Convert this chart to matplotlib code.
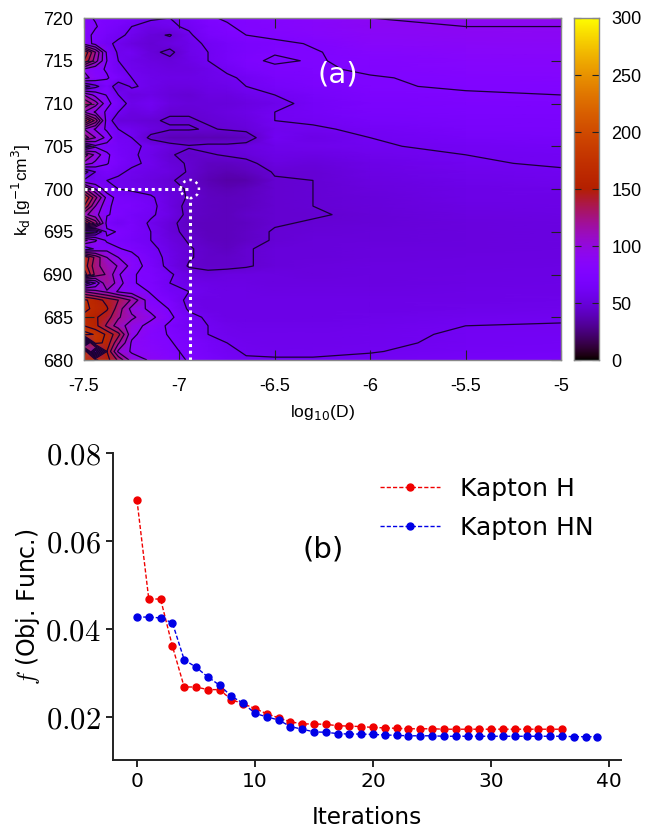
import numpy as np
import matplotlib
matplotlib.use("Agg")
import matplotlib.pyplot as plt
from matplotlib.colors import ListedColormap

W, H = 645, 830
log_d = [-7.5,-7.44,-7.38,-7.32,-7.25,-7.15,-7.05,-6.95,-6.85,-6.75,-6.65,-6.5,-6.3,-6.0,-5.5,-5.0]
k_d = list(range(720, 679, -1))
objective = [
[78,74,72,72,70,62,60,66,74,76,78,80,84,90,91,92],
[85,76,70,66,60,55,58,62,70,74,77,79,83,88,90,90],
[80,72,66,62,58,50,46,58,68,72,75,78,82,86,88,89],
[85,70,62,58,52,48,52,56,62,66,70,72,76,84,86,87],
[165,120,72,58,60,50,44,56,60,66,70,74,74,80,84,85],
[150,112,75,60,56,52,50,54,60,66,72,77,74,78,82,83],
[88,78,74,62,58,54,52,52,56,62,68,72,73,77,80,81],
[95,84,76,70,60,56,54,54,56,58,62,68,72,74,78,79],
[38,56,70,50,62,56,52,52,54,56,60,66,70,74,76,77],
[105,85,74,60,52,54,50,48,52,52,56,60,66,72,74,75],
[135,112,80,66,56,60,52,50,50,50,52,56,64,70,72,73],
[105,88,72,60,52,56,48,48,50,52,54,60,64,68,71,71],
[175,130,68,50,50,48,46,46,48,50,52,60,62,66,69,70],
[105,88,72,60,58,52,48,48,46,48,50,58,58,63,67,68],
[130,105,85,62,60,44,38,38,38,38,40,60,55,60,65,66],
[40,72,68,65,62,58,52,48,50,50,52,56,57,59,62,64],
[130,100,78,66,62,56,48,44,46,48,50,54,53,57,60,62],
[100,86,76,68,62,58,50,46,42,42,44,52,50,55,59,61],
[40,60,68,62,58,54,52,46,40,38,40,48,48,53,57,59],
[62,62,60,58,56,52,48,44,38,34,36,46,47,52,56,58],
[125,90,66,60,58,55,50,46,40,38,40,46,47,51,55,56],
[170,125,85,68,66,62,52,46,42,40,42,46,47,50,54,55],
[150,105,78,70,70,64,52,44,42,40,42,46,47,50,53,54],
[110,95,76,72,66,62,54,44,42,40,44,46,46,49,52,53],
[175,130,70,62,68,58,50,42,40,40,42,46,48,49,51,52],
[28,40,78,74,68,60,50,44,40,40,43,48,49,50,51,52],
[110,92,72,70,66,60,52,46,42,40,43,48,50,50,51,52],
[62,78,85,76,72,64,54,48,44,42,46,50,50,51,51,52],
[165,130,105,90,80,66,56,48,44,44,46,50,50,51,52,52],
[160,125,112,104,84,68,56,46,44,44,46,50,51,52,52,53],
[175,130,118,92,76,72,62,52,50,52,52,52,51,52,53,53],
[45,75,120,98,76,72,60,54,54,53,53,52,52,52,53,54],
[120,110,102,88,82,74,64,60,56,54,54,53,53,53,54,55],
[168,158,145,135,118,78,70,56,55,54,54,54,54,54,55,56],
[168,162,152,128,100,86,74,58,54,54,54,55,55,55,56,57],
[162,152,142,122,108,94,78,64,58,55,55,55,55,56,58,59],
[165,155,132,112,98,84,72,62,60,57,56,56,56,57,60,60.5],
[188,178,162,140,94,80,74,67,60,58,57,57,57,58,61,62],
[45,172,160,122,88,82,76,70,65,60,58,57,57,58,62,63],
[190,60,150,102,88,84,78,72,66,62,59,58,58,59.5,63,64],
[178,168,156,132,98,88,80,74,68,64,61,61,61,62,65,66],
]
contour_levels = [47,60,75,90,105,120,135,150,165,180]
best_log_d, best_k_d = -6.945, 700
x_ticks_a = [-7.5,-7,-6.5,-6,-5.5,-5]
x_labels_a = ["-7.5","-7","-6.5","-6","-5.5","-5"]
y_ticks_a = [680,685,690,695,700,705,710,715,720]
cbar_ticks = [0,50,100,150,200,250,300]

kapton_h = [.0693,.0468,.0468,.0361,.0268,.0268,.0262,.0262,.0239,.0230,.0219,.0207,.0198,.0189,.0184,.0184,.0183,.0180,.0179,.0178,.0176,.0175,.0174,.0173,.0173,.0173,.0172,.0172,.0172,.0172,.0172,.0172,.0172,.0172,.0172,.0172,.0172]
kapton_hn = [.0427,.0427,.0425,.0414,.0330,.0313,.0291,.0272,.0247,.0231,.0208,.0200,.0193,.0178,.0172,.0166,.0165,.0162,.0161,.0161,.0160,.0159,.0158,.0157,.0157,.0157,.0156,.0156,.0156,.0156,.0156,.0156,.0156,.0156,.0156,.0156,.0156,.0155,.0155,.0155]

t = np.linspace(0, 1, 256)
pm3d = ListedColormap(np.c_[np.sqrt(t), t**3, np.clip(np.sin(2*np.pi*t), 0, 1)])

plt.rcParams["mathtext.fontset"] = "cm"
fig = plt.figure(figsize=(W/100, H/100), dpi=100)
def box(l, t_, r, b):
    return fig.add_axes([l/W, 1-b/H, (r-l)/W, (b-t_)/H])

# panel (a)
ax = box(84, 18, 561, 360)
Z = np.array(objective, float)
ax.pcolormesh(log_d, k_d, Z, cmap=pm3d, vmin=0, vmax=300, shading="gouraud", rasterized=True)
ax.contour(log_d, k_d, Z, levels=contour_levels, colors="#1a0035", linewidths=0.9)
ax.plot([-7.5, best_log_d], [best_k_d]*2, color="white", ls=(0,(1,1.2)), lw=2.2)
ax.plot([best_log_d]*2, [680, best_k_d-1], color="white", ls=(0,(1,1.2)), lw=2.2)
ax.scatter([best_log_d], [best_k_d], s=170, facecolors="none", edgecolors="white", linewidths=1.8, linestyles=":", zorder=5)
ax.text(0.532, 0.835, "(a)", transform=ax.transAxes, color="white", fontsize=21, ha="center", va="center", family="DejaVu Sans")
ax.set_xlim(-7.5, -5); ax.set_ylim(680, 720)
ax.set_xticks(x_ticks_a, x_labels_a); ax.set_yticks(y_ticks_a)
ax.tick_params(direction="in", length=7, width=0.8, color="#222222", labelsize=13, pad=13, labelfontfamily="Liberation Sans", top=True, right=True)
ax.tick_params(axis="y", pad=8)
for s in ax.spines.values():
    s.set_color("#888888"); s.set_linewidth(1.0)
fig.text(322/W, 1-413/H, r"log$_{10}$(D)", fontsize=12.6, family="Liberation Sans", ha="center", va="center", math_fontfamily="dejavusans")
fig.text(21/W, 1-190/H, r"k$_{\rm d}$ [g$^{-1}$cm$^{3}$]", fontsize=12.5, family="Liberation Sans", rotation=90, ha="center", va="center", math_fontfamily="dejavusans")

cax = box(574, 18, 599, 360)
cax.imshow(np.linspace(300, 0, 256)[:, None], cmap=pm3d, vmin=0, vmax=300, aspect="auto", extent=[0,1,0,300])
cax.set_xticks([]); cax.set_yticks(cbar_ticks)
cax.yaxis.tick_right()
cax.tick_params(direction="in", length=5, width=0.8, color="#222222", labelsize=13, pad=9, labelfontfamily="Liberation Sans", left=True, right=True)
for s in cax.spines.values():
    s.set_color("#888888"); s.set_linewidth(1.0)

# panel (b)
bx = box(113, 453, 621, 760)
bx.plot(range(len(kapton_h)), kapton_h, "o--", color="#f00000", lw=1.0, ms=5, dashes=(3, 1.5), label="Kapton H", clip_on=False)
bx.plot(range(len(kapton_hn)), kapton_hn, "o--", color="#0000e6", lw=1.0, ms=5, dashes=(3, 1.5), label="Kapton HN", clip_on=False)
bx.set_xlim(-2.03, 41); bx.set_ylim(0.0102, 0.08)
bx.set_xticks([0,10,20,30,40])
bx.set_yticks([.02,.04,.06,.08], [r"$0.02$", r"$0.04$", r"$0.06$", r"$0.08$"])
bx.tick_params(length=5, width=1.2, labelsize=14.5)
bx.tick_params(axis="y", labelsize=22, pad=4)
bx.spines[["top","right"]].set_visible(False)
for s in ("left","bottom"):
    bx.spines[s].set_linewidth(1.4); bx.spines[s].set_color("#222222")
bx.set_xlabel("Iterations", fontsize=16.7, labelpad=11)
bx.set_ylabel(r"$f$ (Obj. Func.)", fontsize=17)
bx.yaxis.set_label_coords(-0.14, 0.5)
bx.text(0.414, 0.685, "(b)", transform=bx.transAxes, fontsize=21, ha="center", va="center")
bx.legend(loc="upper left", bbox_to_anchor=(0.5256, 0.922), frameon=False, fontsize=18, handlelength=2.4, handletextpad=0.8, labelspacing=0.6, borderaxespad=0, borderpad=0)
fig.savefig("out.png", dpi=100)
